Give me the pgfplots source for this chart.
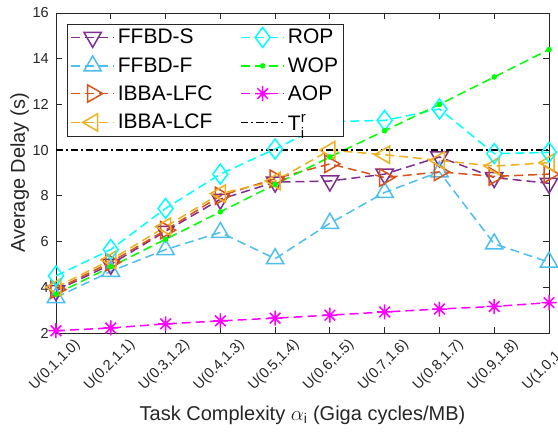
\documentclass[border=0pt]{standalone}
\usepackage{fontspec}
\setmainfont{Liberation Sans}
\usepackage{pgfplots}
\pgfplotsset{compat=1.18}
\definecolor{cS}{RGB}{126,47,142}
\definecolor{cF}{RGB}{77,190,238}
\definecolor{cLFC}{RGB}{217,83,25}
\definecolor{cLCF}{RGB}{237,177,32}
\definecolor{cROP}{RGB}{0,255,255}
\definecolor{cWOP}{RGB}{0,255,0}
\definecolor{cAOP}{RGB}{255,0,255}
\definecolor{axgray}{RGB}{38,38,38}
\newcommand\legfont{\fontsize{21}{24}\selectfont}
\pgfdeclareplotmark{mstar}{%
  \pgfpathmoveto{\pgfqpoint{-\pgfplotmarksize}{0pt}}\pgfpathlineto{\pgfqpoint{\pgfplotmarksize}{0pt}}%
  \pgfpathmoveto{\pgfqpoint{0pt}{-\pgfplotmarksize}}\pgfpathlineto{\pgfqpoint{0pt}{\pgfplotmarksize}}%
  \pgfpathmoveto{\pgfqpoint{-0.707\pgfplotmarksize}{-0.707\pgfplotmarksize}}\pgfpathlineto{\pgfqpoint{0.707\pgfplotmarksize}{0.707\pgfplotmarksize}}%
  \pgfpathmoveto{\pgfqpoint{-0.707\pgfplotmarksize}{0.707\pgfplotmarksize}}\pgfpathlineto{\pgfqpoint{0.707\pgfplotmarksize}{-0.707\pgfplotmarksize}}%
  \pgfusepathqstroke}
\begin{document}
\begin{tikzpicture}
\begin{axis}[
  name=ax,
  scale only axis,
  width=493pt, height=320pt,
  xmin=0, xmax=9, ymin=2, ymax=16,
  xtick={0,...,9},
  xticklabels={{U(0.1,1.0)},{U(0.2,1.1)},{U(0.3,1.2)},{U(0.4,1.3)},{U(0.5,1.4)},{U(0.6,1.5)},{U(0.7,1.6)},{U(0.8,1.7)},{U(0.9,1.8)},{U(1.0,1.9)}},
  ytick={2,4,...,16},
  tick align=inside,
  major tick length=6pt,
  axis line style={axgray, line width=0.8pt},
  every tick/.style={axgray, line width=0.8pt},
  /pgf/number format/assume math mode=true,
  tick label style={font=\fontsize{14.5}{17}\selectfont, text=axgray},
  xticklabel style={rotate=45, anchor=east, inner sep=0pt, xshift=9pt, yshift=-22pt},
  yticklabel style={inner sep=0pt, xshift=-7pt},
  label style={font=\fontsize{20}{23}\selectfont, text=axgray},
  xlabel={Task Complexity $\alpha$\textsubscript{i} (Giga cycles/MB)},
  ylabel={Average Delay (s)},
  xlabel style={at={(axis description cs:0.5,-0.2719)}, anchor=base},
  ylabel style={at={(axis description cs:-0.0629,0.5)}, anchor=base},
  legend style={at={(0,1)}, anchor=north west, xshift=11pt, yshift=-11pt,
    font=\legfont, draw=axgray, line width=0.8pt,
    row sep=8.5pt, column sep=1pt, inner xsep=3pt, inner ysep=3pt,
    nodes={font=\legfont, inner xsep=2pt, inner ysep=1.5pt, text=black},
    /tikz/every even column/.append style={column sep=26pt}},
  legend cell align=left,
  transpose legend,
  legend columns=4,
  legend image code/.code={\draw[mark repeat=2,mark phase=2,#1] plot coordinates {(0pt,0pt)(21.5pt,0pt)(43pt,0pt)};},
  every axis plot/.append style={line width=1.5pt, dash pattern=on 9pt off 5pt},
]
\addplot[cS, mark=triangle, mark size=10, mark options={rotate=180, solid}]
  coordinates {(0,3.85)(1,5.0)(2,6.45)(3,7.85)(4,8.6)(5,8.65)(6,8.95)(7,9.7)(8,8.8)(9,8.55)};
\addlegendentry{FFBD-S}
\addplot[cF, mark=triangle, mark size=10, mark options={solid}]
  coordinates {(0,3.55)(1,4.7)(2,5.65)(3,6.4)(4,5.25)(5,6.8)(6,8.15)(7,9.05)(8,5.9)(9,5.1)};
\addlegendentry{FFBD-F}
\addplot[cLFC, mark=triangle, mark size=10, mark options={rotate=-90, solid}]
  coordinates {(0,3.9)(1,5.1)(2,6.5)(3,8.0)(4,8.75)(5,9.4)(6,8.8)(7,9.05)(8,8.85)(9,8.95)};
\addlegendentry{IBBA-LFC}
\addplot[cLCF, mark=triangle, mark size=10, mark options={rotate=90, solid}]
  coordinates {(0,4.0)(1,5.2)(2,6.65)(3,8.1)(4,8.65)(5,10.0)(6,9.8)(7,9.55)(8,9.3)(9,9.45)};
\addlegendentry{IBBA-LCF}
\addplot[cROP, mark=diamond, mark size=10, mark options={solid}]
  coordinates {(0,4.5)(1,5.65)(2,7.45)(3,8.95)(4,10.05)(5,11.25)(6,11.3)(7,11.8)(8,9.85)(9,9.9)};
\addlegendentry{ROP}
\addplot[cWOP, mark=*, mark size=2, mark options={solid}]
  coordinates {(0,3.7)(1,4.9)(2,6.1)(3,7.3)(4,8.5)(5,9.7)(6,10.85)(7,12.0)(8,13.2)(9,14.4)};
\addlegendentry{WOP}
\addplot[cAOP, mark=mstar, mark size=7.5, mark options={solid}]
  coordinates {(0,2.1)(1,2.22)(2,2.4)(3,2.53)(4,2.65)(5,2.78)(6,2.92)(7,3.05)(8,3.16)(9,3.33)};
\addlegendentry{AOP}
\addplot[black, no marks, dash pattern=on 7pt off 3pt on 2pt off 3pt]
  coordinates {(0,10)(9,10)};
\addlegendentry{\rule[-10pt]{0pt}{27pt}T\rlap{\raisebox{8pt}{\fontsize{15}{15}\selectfont r}}\raisebox{-8pt}{\fontsize{15}{15}\selectfont i}}
\end{axis}
\pgfresetboundingbox
\path[use as bounding box] ([shift={(-56pt,-100pt)}]ax.south west) rectangle ([shift={(9pt,13pt)}]ax.north east);
\end{tikzpicture}
\end{document}
